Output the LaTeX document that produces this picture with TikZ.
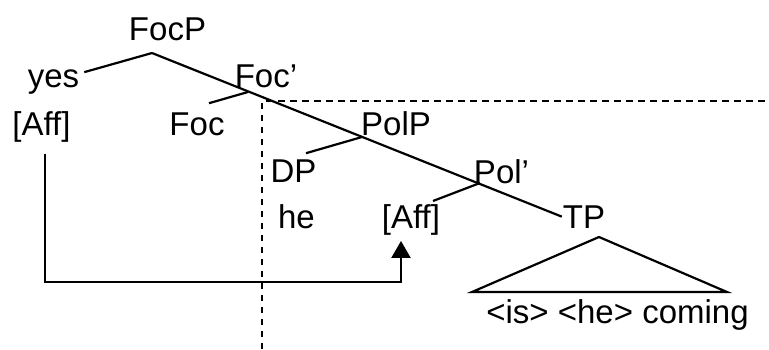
\documentclass[tikz,border=0pt]{standalone}
\usepackage{fontspec}
\setmainfont{Liberation Sans}
\usetikzlibrary{arrows.meta}
\begin{document}
\begin{tikzpicture}[x=1pt,y=-1pt,line width=2.2pt,
	lbl/.style={inner sep=0pt,anchor=base,font=\fontsize{33}{39}\selectfont},
	movearrow/.style={-{Triangle[width=19pt,length=17pt]}},
	boundary/.style={dash pattern=on 6.5pt off 5.5pt}]
	\useasboundingbox (0,0) rectangle (769,349);
	% labels
	\node[lbl] (focp) at (167.5,40) {FocP};
	\node[lbl] (yes) at (53.5,87) {yes};
	\node[lbl] (affL) at (41.5,135) {[Aff]};
	\node[lbl] (focbar) at (266,87) {Foc’};
	\node[lbl] (foc) at (197,135) {Foc};
	\node[lbl] (polp) at (396,135) {PolP};
	\node[lbl] (dp) at (293.5,182) {DP};
	\node[lbl] (he) at (296.5,228) {he};
	\node[lbl] (polbar) at (501.5,183) {Pol’};
	\node[lbl] (affR) at (411,228) {[Aff]};
	\node[lbl] (tp) at (584,228) {TP};
	\node[lbl] (coming) at (617.5,323) {<is> <he> coming};
	% branching points
	\coordinate (jfocp) at (152,53);
	\coordinate (jfocbar) at (248,92);
	\coordinate (jpolp) at (362,137);
	\coordinate (jpolbar) at (480,183);
	% branches
	\draw (jfocp) -- ([shift={(4,4)}]yes.north east);
	\draw (jfocp) -- (tp.west);
	\draw (jfocbar) -- ([shift={(12,-8)}]foc.north);
	\draw (jpolp) -- ([shift={(12.5,-5)}]dp.north);
	\draw (jpolbar) -- ([shift={(22,-2)}]affR.north);
	\draw (599,237) -- (472,292) -- (727,292) -- cycle;
	% movement
	\draw[movearrow] ([shift={(3.5,11)}]affL.south) |- ([shift={(-10,46)}]affR.south) -- ([shift={(-10,5)}]affR.south);
	% phase boundary
	\draw[boundary] (262,349) -- (262,101) -- (769,101);
\end{tikzpicture}
\end{document}
